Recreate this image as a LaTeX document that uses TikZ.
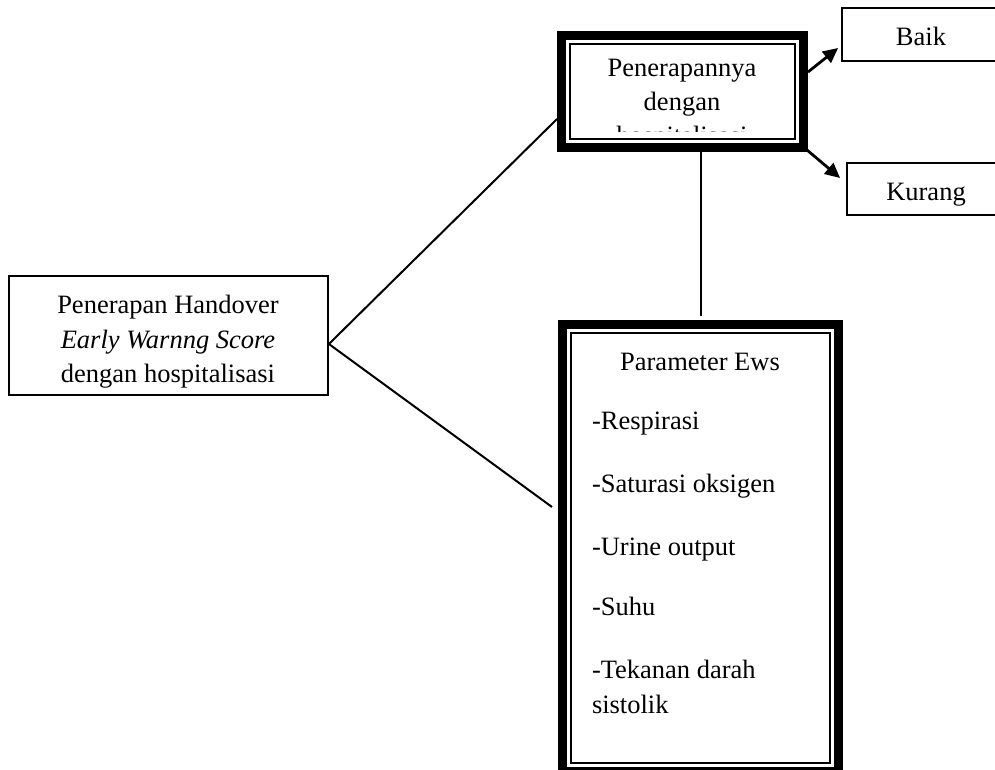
\documentclass[tikz,border=0pt]{standalone}
\usepackage{fontspec}
\setmainfont{Liberation Serif}
\usetikzlibrary{arrows.meta,calc}
\tikzset{
  txt/.style={font=\fontsize{26.5pt}{35pt}\selectfont, inner sep=0pt, outer sep=0pt},
  plainbox/.style={draw, line width=1.8pt, inner sep=0pt},
  thickbox/.style={draw, line width=9pt, inner sep=0pt},
  innerline/.style={line width=2pt},
  conn/.style={line width=2pt},
  arr/.style={line width=2.8pt, -{Triangle[length=15pt,width=14pt]}}
}
\begin{document}
\begin{tikzpicture}[x=1pt,y=-1pt]
\useasboundingbox (0,0) rectangle (995,769);
% boxes
\node[plainbox, minimum width=319pt, minimum height=119pt] (L) at (168.5,335.5) {};
\node[thickbox, minimum width=242pt, minimum height=112pt] (P) at (682.5,91.5) {};
\node[thickbox, minimum width=276pt, minimum height=447pt] (E) at (700.5,548) {};
\node[plainbox, minimum width=163pt, minimum height=53pt] (B) at (923.5,34.5) {};
\node[plainbox, minimum width=158pt, minimum height=52pt] (K) at (926,189) {};
% inner thin lines of double borders
\draw[innerline] ([xshift=13pt,yshift=-13pt]P.north west) rectangle ([xshift=-13pt,yshift=13pt]P.south east);
\draw[innerline] ([xshift=13pt,yshift=-13pt]E.north west) rectangle ([xshift=-13pt,yshift=13pt]E.south east);
% texts
\node[txt, anchor=base] (l1) at (168,313) {Penerapan Handover};
\node[txt, anchor=base] (l2) at (168,348) {\itshape Early Warnng Score};
\node[txt, anchor=base] (l3) at (168,382) {dengan hospitalisasi};
\node[txt, anchor=base] (p1) at (682,76) {Penerapannya};
\node[txt, anchor=base] (p2) at (682,110) {dengan};
\begin{scope}
  \clip (572,42) rectangle (794,131);
  \node[txt, anchor=base] (p3) at (682,144) {hospitalisasi};
\end{scope}
\node[txt, anchor=base] (b1) at (921,45) {Baik};
\node[txt, anchor=base] (k1) at (926,200) {Kurang};
\node[txt, anchor=base] (e0) at (700,370) {Parameter Ews};
\node[txt, anchor=base west] (e1) at (592,429) {-Respirasi};
\node[txt, anchor=base west] (e2) at (592,492) {-Saturasi oksigen};
\node[txt, anchor=base west] (e3) at (592,555) {-Urine output};
\node[txt, anchor=base west] (e4) at (592,615) {-Suhu};
\node[txt, anchor=base west] (e5) at (592,678) {-Tekanan darah};
\node[txt, anchor=base west] (e6) at (592,713) {sistolik};
% connectors
\coordinate (J) at ([yshift=-8.5pt]L.east);
\coordinate (Pin) at ([yshift=-27.5pt]P.west);
\coordinate (Eend) at ([xshift=-6pt,yshift=41pt]E.west);
\draw[conn] (J) -- (Pin);
\draw[conn] (J) -- (Eend);
\draw[conn, shorten >=4pt] (E.north |- P.south) -- (E.north);
\draw[arr] ([yshift=19.5pt]P.east) -- ([xshift=-3pt,yshift=-13.5pt]B.west);
\draw[arr] ([xshift=-1pt,yshift=2pt]P.south east) -- ([xshift=-6pt,yshift=11pt]K.west);
\end{tikzpicture}
\end{document}
